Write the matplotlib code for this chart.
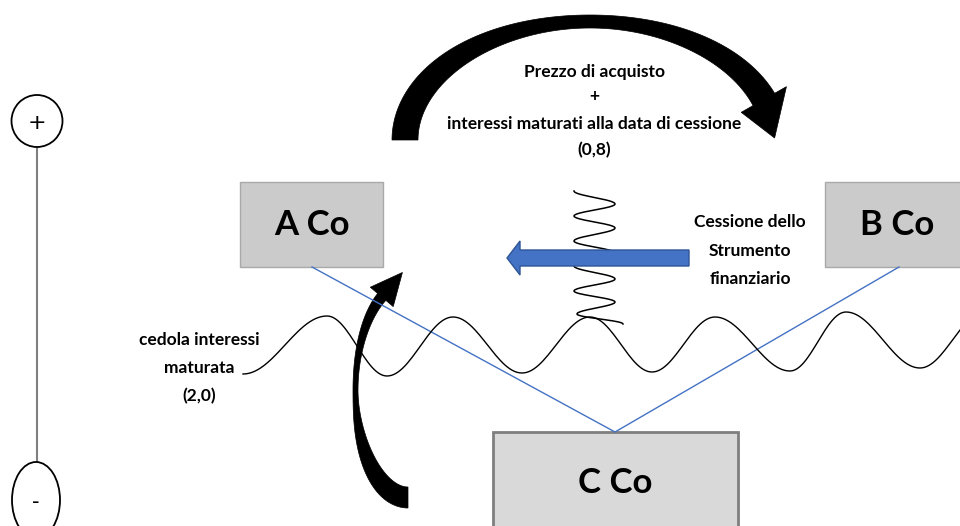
import numpy as np
import matplotlib
matplotlib.use('Agg')
import matplotlib.pyplot as plt
from matplotlib.patches import Rectangle, Ellipse, Polygon

# narrow-ish bold font in place of Calibri
plt.rcParams['font.family'] = ['Lato', 'DejaVu Sans']

# soggetti (boxes) and labels
boxes = ['A Co', 'B Co', 'C Co']
box_x = [240, 825, 493]
box_y = [182, 182, 432]
box_w = [143, 150, 245]
box_h = [85, 85, 110]

top_lines = ['Prezzo di acquisto', '+', 'interessi maturati alla data di cessione', '(0,8)']
top_y = [72, 96, 124, 150]
right_lines = ['Cessione dello', 'Strumento', 'finanziario']
right_y = [222, 251, 279]
left_lines = ['cedola interessi', 'maturata', '(2,0)']
left_y = [340, 368, 396]

# wave (cedola) extremes
wave_x = [243, 327, 387, 453, 522, 590, 652, 715, 790, 846, 920, 985]
wave_y = [374, 316, 376, 317, 373, 317, 372, 317, 371, 312, 368, 312]

# spring extremes
spring_y = [191, 204, 216, 228, 241, 253, 266, 279, 291, 302, 314, 324]
spring_x = [574, 615, 574, 615, 574, 615, 574, 615, 574, 615, 577, 623]


def cos_curve(lin, other, n=30):
    a, b = [], []
    for i in range(len(lin) - 1):
        t = np.linspace(0, 1, n)
        a.append(lin[i] + (lin[i + 1] - lin[i]) * t)
        b.append(other[i] + (other[i + 1] - other[i]) * (1 - np.cos(np.pi * t)) / 2)
    return np.concatenate(a), np.concatenate(b)


def curved_arrow(ax, cx, cy, a, b, da, db, db2, ph0, ph1, half, length, turn=0):
    # centre line on an ellipse, width changing with the angle
    ph = np.radians(np.linspace(ph0, ph1, 150))
    c = np.c_[cx + a * np.cos(ph), cy + b * np.sin(ph)]
    nrm = np.c_[np.cos(ph) / a, np.sin(ph) / b]
    nrm = nrm / np.linalg.norm(nrm, axis=1)[:, None]
    dbs = np.where(np.sin(ph) > 0, db, db2)
    w = np.sqrt((da * np.cos(ph)) ** 2 + (dbs * np.sin(ph)) ** 2)
    outer = c + nrm * w[:, None] / 2
    inner = c - nrm * w[:, None] / 2
    m = c[-1]
    t = np.array([-a * np.sin(ph[-1]), b * np.cos(ph[-1])])
    t = t / np.linalg.norm(t)
    r = np.radians(turn)
    t = np.array([t[0] * np.cos(r) - t[1] * np.sin(r), t[0] * np.sin(r) + t[1] * np.cos(r)])
    n = nrm[-1]
    head = [m + n * half, m + t * length, m - n * half]
    pts = np.vstack([outer, head, inner[::-1]])
    ax.add_patch(Polygon(pts, closed=True, fc='black', ec='black', lw=0.5, zorder=2))


fig = plt.figure(figsize=(9.6, 5.26), dpi=100)
ax = fig.add_axes([0, 0, 1, 1])
ax.set_xlim(0, 960)
ax.set_ylim(526, 0)
ax.axis('off')

# scale + / -
ax.plot([37, 37], [147, 462], color='#808080', lw=1.5, zorder=1)
ax.add_patch(Ellipse((37, 121), 51, 52, fc='white', ec='black', lw=1.3, zorder=2))
ax.add_patch(Ellipse((36, 500), 48, 76, fc='white', ec='black', lw=1.3, zorder=2))
ax.text(37, 123, '+', ha='center', va='center', fontsize=16, family='DejaVu Sans')
ax.text(36, 502, '-', ha='center', va='center', fontsize=15, family='DejaVu Sans')

# boxes
for i, name in enumerate(boxes):
    if name == 'C Co':
        fc, ec, lw = '#d9d9d9', '#7f7f7f', 2
    else:
        fc, ec, lw = '#cbcbcb', '#a9a9a9', 1
    ax.add_patch(Rectangle((box_x[i], box_y[i]), box_w[i], box_h[i], fc=fc, ec=ec, lw=lw, zorder=2))
    cx = box_x[i] + box_w[i] / 2 if name != 'B Co' else 897
    cy = box_y[i] + 43 if name != 'C Co' else 483
    ax.text(cx, cy, name, ha='center', va='center', fontsize=25, fontweight='bold', zorder=5)

# blue lines
ax.plot([312, 615, 899], [267, 432, 267], color='#4472c4', lw=1, zorder=3)

# wave and spring
wx, wy = cos_curve(wave_x, wave_y)
ax.plot(wx, wy, color='black', lw=1, zorder=3)
sy, sx = cos_curve(spring_y, spring_x)
ax.plot(sx, sy, color='black', lw=1.1, zorder=3)

# blue arrow
ax.add_patch(Polygon([(689, 250), (520, 250), (520, 241), (507, 258), (520, 275), (520, 266), (689, 266)],
                     closed=True, fc='#4472c4', ec='#2f5597', lw=1, zorder=4))

# black curved arrows
curved_arrow(ax, 590, 140, 185, 118.5, 26, 13, 13, 180, 340, 26, 40, turn=14)
curved_arrow(ax, 408, 390, 52.5, 107.5, 5, 21, 12, 90, 240, 15, 32)

# texts
for s, y in zip(top_lines, top_y):
    ax.text(594, y, s, ha='center', va='center', fontsize=12.5, fontweight='bold')
for s, y in zip(right_lines, right_y):
    ax.text(750, y, s, ha='center', va='center', fontsize=12.5, fontweight='bold')
for s, y in zip(left_lines, left_y):
    ax.text(199, y, s, ha='center', va='center', fontsize=12.5, fontweight='bold')

fig.savefig('out.png', dpi=100)
